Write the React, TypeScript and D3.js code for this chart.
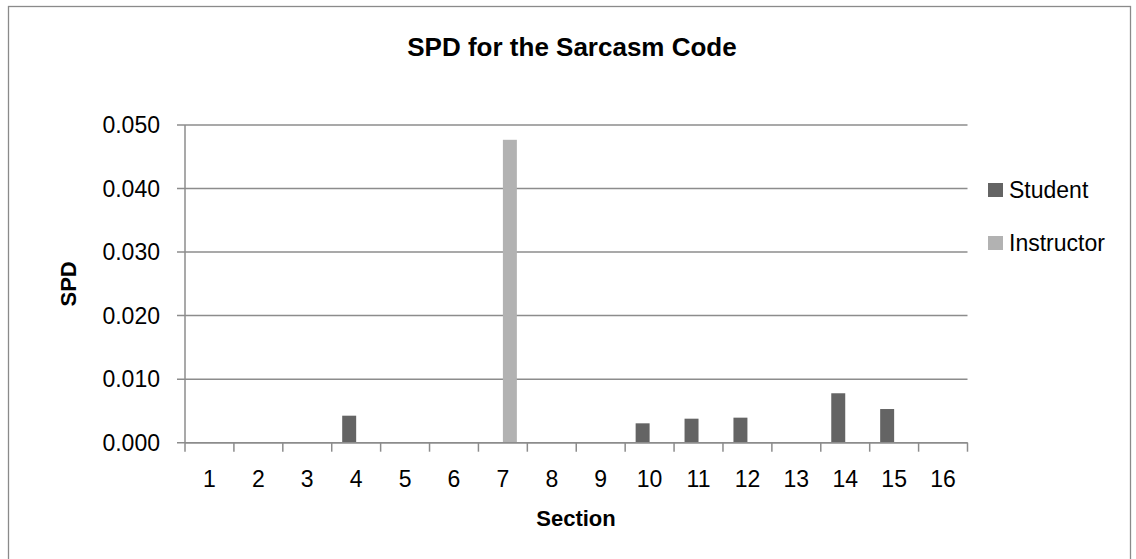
import React from "react";
import * as d3 from "d3";

const sections = ["1","2","3","4","5","6","7","8","9","10","11","12","13","14","15","16"];
const studentValues = [0, 0, 0, 0.00425, 0, 0, 0, 0, 0, 0.00305, 0.00378, 0.00394, 0, 0.00778, 0.0053, 0];
const instructorValues = [0, 0, 0, 0, 0, 0, 0.04767, 0, 0, 0, 0, 0, 0, 0, 0, 0];
const yTicks = [0, 0.01, 0.02, 0.03, 0.04, 0.05];
const seriesNames = ["Student", "Instructor"];
const seriesColors = ["#646464", "#b2b2b2"];

const W = 1136, H = 559;
const left = 185, right = 967.5, top = 125, bottom = 442.7;
const FONT = "'Liberation Sans', Arial, sans-serif";

export default function App() {
  const x = d3.scaleBand<string>().domain(sections).range([left, right]).paddingInner(0).paddingOuter(0);
  const y = d3.scaleLinear().domain([0, 0.05]).range([bottom, top]);
  const bw = x.bandwidth() / 3.5;
  const series = [studentValues, instructorValues];
  const fmt = d3.format(".3f");
  const grid = "#8c8c8c";

  return (
    <svg width={W} height={H} style={{ position: "absolute", left: 0, top: 0, background: "#fff" }} fontFamily={FONT}>
      <rect x={8.5} y={6.5} width={1122} height={H + 10} fill="#fff" stroke="#8a8a8a" strokeWidth={1.3} />
      <text x={572} y={56} textAnchor="middle" fontSize={26} fontWeight="bold" fill="#000">SPD for the Sarcasm Code</text>

      {yTicks.map((t) => (
        <g key={t}>
          <line x1={left - 8} x2={right} y1={y(t)} y2={y(t)} stroke={grid} strokeWidth={1.5} />
          <text x={160} y={y(t)} dy="0.36em" textAnchor="end" fontSize={23} fill="#000">{fmt(t)}</text>
        </g>
      ))}

      {series.map((vals, si) =>
        vals.map((v, i) =>
          v > 0 ? (
            <rect
              key={`${si}-${i}`}
              x={(x(sections[i]) as number) + x.bandwidth() / 2 - bw + si * bw}
              y={y(v)}
              width={bw}
              height={y(0) - y(v)}
              fill={seriesColors[si]}
            />
          ) : null
        )
      )}

      <line x1={left} x2={left} y1={top} y2={bottom} stroke={grid} strokeWidth={1.5} />
      <line x1={left} x2={right} y1={bottom} y2={bottom} stroke={grid} strokeWidth={1.5} />
      {sections.concat(["end"]).map((s, i) => {
        const xx = left + i * x.bandwidth();
        return <line key={s} x1={xx} x2={xx} y1={bottom} y2={bottom + 9} stroke={grid} strokeWidth={1.5} />;
      })}
      {sections.map((s) => (
        <text key={s} x={(x(s) as number) + x.bandwidth() / 2} y={479} dy="0.36em" textAnchor="middle" fontSize={23} fill="#000">{s}</text>
      ))}

      <text x={576} y={518} dy="0.36em" textAnchor="middle" fontSize={22} fontWeight="bold" fill="#000">Section</text>
      <text transform={`translate(68,${(top + bottom) / 2}) rotate(-90)`} dy="0.36em" textAnchor="middle" fontSize={22} fontWeight="bold" fill="#000">SPD</text>

      {seriesNames.map((n, i) => (
        <g key={n}>
          <rect x={988} y={183 + i * 53} width={15} height={14} fill={seriesColors[i]} />
          <text x={1009} y={190 + i * 53} dy="0.36em" fontSize={23} fill="#000">{n}</text>
        </g>
      ))}
    </svg>
  );
}
